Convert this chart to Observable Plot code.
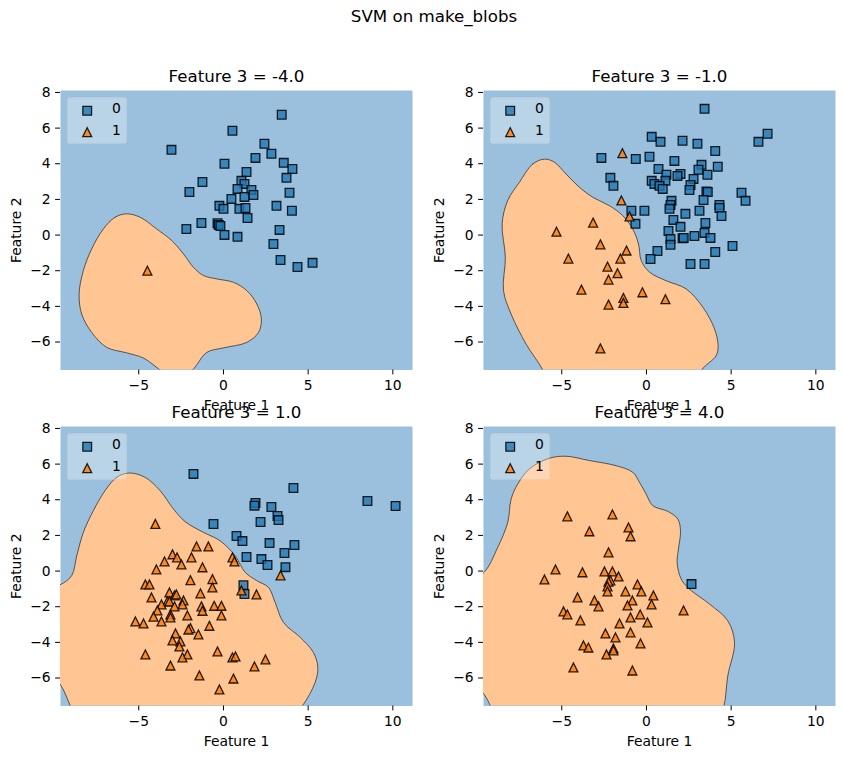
<!DOCTYPE html>
<html><head><meta charset="utf-8">
<script src="https://cdn.jsdelivr.net/npm/d3@7"></script>
<script src="https://cdn.jsdelivr.net/npm/@observablehq/plot@0.6"></script>
<style>
html,body{margin:0;padding:0;background:#fff}
#wrap{position:relative;width:844px;height:759px;overflow:hidden;font-family:"DejaVu Sans",sans-serif}
#wrap>svg{position:absolute;max-width:none}
#sup{position:absolute;left:0;top:7px;width:868px;text-align:center;font-size:16.67px;line-height:20px;color:#000}
</style></head><body>
<div id="wrap"><div id="sup">SVM on make_blobs</div></div>
<script>
const xTicks=[-5,0,5,10];
const yTicks=[-6,-4,-2,0,2,4,6,8];
const xDomain=[-9.62,11.16];
const yDomain=[-7.57,8.11];
const classLabels=["0","1"];
const titles=["Feature 3 = -4.0","Feature 3 = -1.0","Feature 3 = 1.0","Feature 3 = 4.0"];

const squaresA=[[3.44,6.75],[0.53,5.85],[-3.07,4.78],[2.42,5.12],[2.83,4.56],[1.89,4.33],[3.56,4.05],[4.07,3.71],[0.06,4.0],[1.36,3.54],[3.72,3.21],[-1.24,2.98],[1.06,3.04],[1.24,2.87],[-2.01,2.42],[0.83,2.59],[1.65,2.53],[1.77,2.25],[3.90,2.37],[1.24,2.14],[0.47,2.03],[-0.24,1.64],[0,1.47],[0.94,1.47],[1.30,1.52],[3.13,1.64],[4.04,1.36],[1.42,0.96],[-2.19,0.34],[-1.30,0.68],[-0.35,0.66],[-0.28,0.57],[-0.18,0.51],[0.06,0.01],[0.83,-0.10],[3.31,0.29],[2.95,-0.50],[3.37,-1.40],[4.37,-1.79],[5.26,-1.56]];
const trianglesA=[[-4.49,-2.0]];
const regionA=[[-5.71,1.19],[-6.40,1.0],[-7.09,0.34],[-7.78,-0.78],[-8.27,-1.99],[-8.52,-3.30],[-8.37,-4.43],[-7.78,-5.46],[-6.89,-6.30],[-5.71,-6.61],[-4.72,-6.90],[-3.74,-7.57],[-2.8,-8.2],[-1.83,-7.57],[-0.98,-6.58],[0,-6.33],[1.38,-6.02],[2.07,-5.46],[2.24,-4.71],[1.97,-3.87],[1.38,-3.12],[0.59,-2.65],[-0.39,-2.46],[-1.18,-2.27],[-1.77,-1.81],[-2.36,-1.06],[-3.05,-0.31],[-3.94,0.34],[-4.92,1.0]];

const squaresB=[[3.43,7.08],[7.15,5.68],[6.61,5.23],[0.31,5.51],[0.83,5.23],[2.13,5.29],[3.01,5.12],[4.06,4.72],[-2.66,4.33],[-0.63,4.27],[0.18,4.39],[1.65,4.16],[3.25,3.94],[4.21,3.83],[0.71,3.71],[3.07,3.66],[1.18,3.38],[2.01,3.43],[1.83,3.32],[3.60,3.38],[2.78,3.15],[-2.13,3.21],[-1.95,2.76],[0.31,3.04],[1.12,3.04],[0.47,2.87],[0.77,2.76],[0.96,2.59],[2.60,2.81],[2.54,2.53],[3.54,2.44],[3.62,2.42],[5.61,2.37],[5.85,1.92],[3.37,1.97],[1.48,1.92],[1.42,1.69],[1.36,1.47],[4.31,1.69],[4.31,1.52],[-0.89,1.36],[-0.12,1.36],[3.13,1.36],[2.30,1.19],[4.43,1.07],[1.59,0.85],[-0.65,0.63],[2.01,0.46],[3.48,0.68],[1.30,0.23],[3.43,0.12],[2.83,-0.05],[3.78,-0.16],[2.13,-0.18],[2.20,-0.16],[1.42,-0.22],[1.42,-0.55],[5.08,-0.61],[0.65,-0.89],[4.06,-0.95],[0.24,-1.34],[2.60,-1.62],[3.43,-1.62]];
const trianglesB=[[-1.42,4.59],[-1.48,1.94],[-1.00,1.04],[-3.15,0.70],[-5.31,0.19],[-2.72,-0.52],[-1.18,-0.87],[-4.61,-1.32],[-1.54,-1.32],[-2.30,-1.77],[-1.71,-2.14],[-2.24,-2.50],[-3.84,-3.06],[-0.24,-3.21],[-1.36,-3.53],[-1.36,-3.81],[-2.24,-3.90],[1.12,-3.60],[-2.72,-6.36]];
const regionB=[[-6.02,4.26],[-6.71,3.99],[-7.50,2.96],[-8.19,1.94],[-8.52,0.63],[-8.33,-1.25],[-8.44,-3.11],[-7.99,-4.43],[-7.11,-6.11],[-6.12,-7.57],[-5.5,-9],[2.5,-9],[3.25,-7.57],[4.11,-6.77],[4.23,-6.21],[4.02,-5.27],[3.33,-4.05],[2.34,-3.02],[1.16,-2.56],[0.18,-2.08],[-0.31,-1.43],[-0.47,-0.50],[-0.81,0.34],[-1.40,1.09],[-2.19,1.65],[-3.17,2.12],[-3.96,2.68],[-4.75,3.43],[-5.44,4.09]];

const squaresC=[[-1.77,5.45],[4.13,4.66],[8.50,3.93],[10.16,3.65],[1.89,3.82],[1.83,3.67],[2.83,3.59],[3.19,3.09],[3.25,2.86],[2.19,2.75],[-0.59,2.64],[0.77,1.97],[1.12,1.68],[2.72,1.57],[4.19,1.46],[3.60,1.01],[1.36,0.79],[2.24,0.67],[2.60,0.34],[3.66,0.22],[1.18,-0.79],[1.24,-1.29]];
const trianglesC=[[-4.02,2.64],[-1.59,1.38],[-0.89,1.38],[-3.01,0.94],[-2.74,0.77],[-1.89,0.77],[-3.48,0.54],[-2.48,0.37],[-1.24,0.21],[-3.96,0.09],[0.53,0.77],[0.65,0.54],[3.37,-0.24],[-1.95,-0.51],[-0.65,-0.45],[-0.65,-0.92],[-4.61,-0.75],[-4.37,-0.75],[-3.19,-1.20],[-1.36,-1.25],[1.06,-1.09],[1.95,-1.31],[-2.89,-1.37],[-2.78,-1.31],[-4.25,-1.48],[-2.36,-1.65],[-3.31,-1.70],[-3.19,-1.70],[-2.42,-1.87],[-3.66,-1.87],[-2.89,-1.98],[-1.30,-1.98],[-1.24,-2.23],[-0.55,-1.95],[-0.12,-1.95],[-3.90,-2.21],[-4.13,-2.56],[-3.13,-2.43],[-3.13,-2.60],[-2.13,-2.49],[-0.12,-2.49],[-5.20,-2.83],[-4.72,-2.94],[-3.66,-2.83],[-0.83,-3.07],[-1.95,-3.20],[-2.07,-3.28],[-2.83,-3.50],[-1.48,-3.56],[-3.01,-3.89],[-2.54,-3.95],[-2.60,-4.23],[-0.35,-4.51],[-2.13,-4.68],[-2.42,-4.85],[-4.61,-4.68],[0.53,-4.85],[0.71,-4.79],[2.48,-4.96],[1.83,-5.35],[-3.13,-5.30],[-1.42,-5.86],[0.59,-6.03],[-0.24,-6.64]];
const regionC=[[-5.55,5.50],[-6.30,5.26],[-6.99,4.51],[-7.68,3.39],[-8.27,2.17],[-8.66,0.86],[-8.96,-0.26],[-9.65,-0.77],[-10.6,-1.01],[-10.6,-5.5],[-9.65,-6.34],[-9.02,-7.60],[-8.46,-8.7],[3.54,-8.7],[4.63,-7.60],[5.41,-6.25],[5.57,-5.41],[5.31,-4.57],[4.53,-3.72],[3.54,-2.88],[3.05,-1.76],[2.66,-0.92],[1.97,-0.54],[1.28,-0.07],[0.69,0.86],[-0.20,1.70],[-1.18,2.17],[-2.26,2.77],[-2.95,3.48],[-3.74,4.51],[-4.63,5.26]];

const squaresD=[[2.66,-0.73]];
const trianglesD=[[-4.67,3.07],[-2.01,3.18],[-3.37,2.23],[-1.06,2.45],[-0.94,1.95],[-2.24,1.05],[-5.37,0.09],[-6.02,-0.47],[-3.78,-0.07],[-2.48,-0.02],[-2.01,-0.02],[-1.65,-0.30],[-2.13,-0.52],[-2.24,-0.60],[-2.30,-0.86],[-2.30,-1.14],[-0.53,-0.75],[-1.24,-1.14],[-0.30,-1.14],[0.41,-1.37],[-4.07,-1.48],[-3.07,-1.65],[-0.83,-1.65],[-2.83,-1.98],[-1.12,-1.93],[0.30,-1.87],[2.19,-2.21],[-4.90,-2.26],[-4.67,-2.43],[-3.90,-2.77],[-0.94,-2.60],[-0.37,-2.43],[0.06,-2.88],[-1.59,-2.94],[-2.42,-3.50],[-1.83,-3.72],[-0.94,-3.44],[-0.35,-4.06],[-3.72,-4.17],[-3.43,-4.29],[-1.95,-4.34],[-1.95,-4.45],[-2.36,-4.68],[-4.31,-5.41],[-0.83,-5.58]];
const regionD=[[-4.74,6.44],[-5.73,6.33],[-6.91,5.73],[-7.60,4.88],[-7.99,4.04],[-8.19,2.73],[-8.78,1.33],[-9.59,-0.07],[-10.65,-0.64],[-10.65,-5.88],[-9.59,-6.91],[-9.17,-7.65],[-8.68,-8.7],[4.11,-8.7],[4.57,-7.60],[4.80,-5.88],[5.20,-4.01],[4.80,-2.79],[3.72,-1.85],[2.54,-1.01],[2.05,-0.45],[1.81,0.49],[1.89,1.24],[2.01,2.26],[1.85,2.92],[1.26,3.35],[0.37,3.67],[-0.02,4.32],[-0.41,4.98],[-0.81,5.54],[-1.79,5.91],[-3.37,6.20]];

const BLUE_BG="#9BC0DD", ORANGE_BG="#FFC592";
const squareSym={draw(c,size){const r=Math.sqrt(size)/2;c.moveTo(-r,-r);c.lineTo(r,-r);c.lineTo(r,r);c.lineTo(-r,r);c.closePath();}};
const triangleSym={draw(c,size){const r=Math.sqrt(size)/2;c.moveTo(0,-r);c.lineTo(r,r);c.lineTo(-r,r);c.closePath();}};
const sqR=8.7/Math.sqrt(Math.PI), triR=8.9/Math.sqrt(Math.PI);
const sqStyle={symbol:squareSym,r:sqR,fill:"#1f77b4",fillOpacity:0.8,stroke:"#000",strokeOpacity:0.85,strokeWidth:1.3};
const triStyle={symbol:triangleSym,r:triR,fill:"#ff7f0e",fillOpacity:0.85,stroke:"#000",strokeOpacity:0.85,strokeWidth:1.3};

function legendBox(index,scales,values,dim){
  return d3.create("svg:rect")
    .attr("x",dim.marginLeft+7.3).attr("y",dim.marginTop+7.5)
    .attr("width",59.4).attr("height",46).attr("rx",2.8)
    .attr("fill","#fff").attr("fill-opacity",0.3)
    .attr("stroke","#ccc").attr("stroke-opacity",0.3).node();
}

function panel(title,squares,triangles,region,left,top,marginTop){
  const W=352, H=279.5, marginLeft=60, marginBottom=46;
  const svg=Plot.plot({
    width:marginLeft+W+10, height:marginTop+H+marginBottom,
    marginLeft, marginRight:10, marginTop, marginBottom,
    x:{domain:xDomain}, y:{domain:yDomain},
    style:{fontFamily:"DejaVu Sans",fontSize:"13.89px",background:"transparent",color:"#000"},
    marks:[
      Plot.frame({fill:BLUE_BG,stroke:"none"}),
      Plot.line(region,{x:d=>d[0],y:d=>d[1],curve:"catmull-rom-closed",fill:ORANGE_BG,stroke:"#222",strokeWidth:0.7,clip:true}),
      Plot.axisX({ticks:xTicks,tickSize:4.9,tickPadding:5,label:null,fontSize:13.89}),
      Plot.axisY({ticks:yTicks,tickSize:4.9,tickPadding:5,label:null,fontSize:13.89}),
      Plot.dot(squares,{x:d=>d[0],y:d=>d[1],...sqStyle}),
      Plot.dot(triangles,{x:d=>d[0],y:d=>d[1],...triStyle}),
      legendBox,
      Plot.dot([classLabels[0]],{frameAnchor:"top-left",dx:26.7,dy:20.3,...sqStyle}),
      Plot.dot([classLabels[1]],{frameAnchor:"top-left",dx:26.7,dy:41.7,...triStyle}),
      Plot.text([classLabels[0]],{frameAnchor:"top-left",dx:56,dy:18.3,textAnchor:"middle",lineAnchor:"middle",fontSize:13.89}),
      Plot.text([classLabels[1]],{frameAnchor:"top-left",dx:56,dy:39.7,textAnchor:"middle",lineAnchor:"middle",fontSize:13.89}),
      Plot.text(["Feature 1"],{frameAnchor:"bottom",dy:35.8,textAnchor:"middle",lineAnchor:"middle",fontSize:13.89}),
      Plot.text(["Feature 2"],{frameAnchor:"left",dx:-43.5,rotate:-90,textAnchor:"middle",lineAnchor:"middle",fontSize:13.89}),
      Plot.text([title],{frameAnchor:"top",dy:-13.5,textAnchor:"middle",lineAnchor:"middle",fontSize:16.67})
    ]
  });
  svg.style.left=left+"px"; svg.style.top=top+"px";
  document.getElementById("wrap").appendChild(svg);
}
panel(titles[0],squaresA,trianglesA,regionA,0,0,90);
panel(titles[1],squaresB,trianglesB,regionB,423,0,90);
panel(titles[2],squaresC,trianglesC,regionC,0,366,60);
panel(titles[3],squaresD,trianglesD,regionD,423,366,60);
</script>
</body></html>
